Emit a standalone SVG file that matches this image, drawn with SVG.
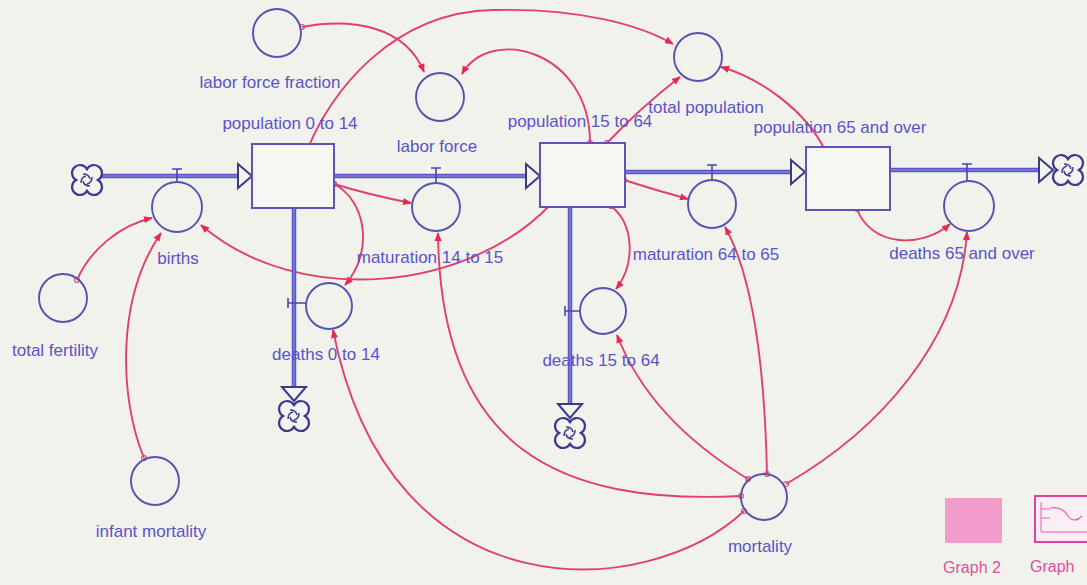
<svg xmlns="http://www.w3.org/2000/svg" width="1087" height="585" viewBox="0 0 1087 585">
<style>
text{font-family:"Liberation Sans",Arial,sans-serif;font-size:17px;fill:#5a52cc;text-anchor:middle}
.aux{fill:none;stroke:#5552b0;stroke-width:1.9}
.stock{fill:#f6f6f3;stroke:#5b55b5;stroke-width:2}
.pipe{fill:none;stroke:#5a55c8;stroke-width:4.5}
.pipein{fill:none;stroke:#9a94e6;stroke-width:1}
.tri{fill:#f4f4ef;stroke:#3c3a86;stroke-width:2}
.valve{fill:none;stroke:#4a44a8;stroke-width:1.6}
.cloud{fill:#f4f4ef;stroke:#3e3a92;stroke-width:2.2}
.link{fill:none;stroke:#e2406c;stroke-width:1.9;marker-end:url(#ah);marker-start:url(#dot)}
.gl{fill:#e0509a;font-size:16px}
</style>
<defs>
<marker id="ah" viewBox="0 0 10 10" refX="9" refY="5" markerWidth="9" markerHeight="9" orient="auto" markerUnits="userSpaceOnUse"><path d="M0,1 L10,5 L0,9 Z" fill="#e8284e"/></marker>
<marker id="dot" viewBox="0 0 10 10" refX="5" refY="5" markerWidth="7" markerHeight="7" markerUnits="userSpaceOnUse"><circle cx="5" cy="5" r="3.5" fill="none" stroke="#e0406e" stroke-width="1.5"/></marker>
<symbol id="cl" viewBox="-16 -16 32 32" overflow="visible">
<path class="cloud" d="M0,-10.9 A8,8 0 1 1 10.9,0 A8,8 0 1 1 0,10.9 A8,8 0 1 1 -10.9,0 A8,8 0 1 1 0,-10.9 Z"/>
<path d="M-4,-6 Q2,-6 3,-1 M5,-3 Q5,3 0,4 M3,6 Q-3,6 -4,1 M-6,3 Q-6,-3 -1,-4" fill="none" stroke="#3e3a92" stroke-width="1.5"/>
</symbol>
</defs>
<rect x="0" y="0" width="1087" height="585" fill="#f2f2ec"/>

<g id="connectors">
<path class="link" d="M302,27 C350,18 405,25 424,72"/>
<path class="link" d="M309,146 C330,95 390,12 493,10 C580,8 640,25 673,44"/>
<path class="link" d="M590,143 C590,50 490,25 462,74"/>
<path class="link" d="M607,143 Q640,108 680,77"/>
<path class="link" d="M825,150 C805,110 760,78 721,67"/>
<path class="link" d="M334,184 Q370,195 411,203"/>
<path class="link" d="M334,184 C365,200 375,250 345,285"/>
<path class="link" d="M551,204 C470,290 300,310 201,225"/>
<path class="link" d="M624,180 Q655,190 688,199"/>
<path class="link" d="M611,206 C635,225 635,265 616,289"/>
<path class="link" d="M857,209 C870,245 920,250 950,224"/>
<path class="link" d="M77,280 C90,250 120,225 152,218"/>
<path class="link" d="M144,458 C120,400 115,300 161,233"/>
<path class="link" d="M744,511 C650,600 390,620 333,330"/>
<path class="link" d="M741,496 C560,505 440,450 438,233"/>
<path class="link" d="M748,479 Q650,420 617,335"/>
<path class="link" d="M767,474 C765,380 755,280 725,227"/>
<path class="link" d="M786,484 C880,430 960,340 967,232"/>
</g>

<g id="flow-births">
<path class="pipe" d="M100,176 H242"/><path class="pipein" d="M100,176 H242"/>
<path class="tri" d="M238,164 L252,176 L238,188 Z"/>
<path class="valve" d="M172,169 H182 M177,169 V182"/>
<use href="#cl" x="71" y="164" width="32" height="32"/>
</g>
<g id="flow-maturation-14-15">
<path class="pipe" d="M334,176 H530"/><path class="pipein" d="M334,176 H530"/>
<path class="tri" d="M526,164 L540,176 L526,188 Z"/>
<path class="valve" d="M431,168 H441 M436,168 V183"/>
</g>
<g id="flow-maturation-64-65">
<path class="pipe" d="M625,172 H795"/><path class="pipein" d="M625,172 H795"/>
<path class="tri" d="M791,160 L805,172 L791,184 Z"/>
<path class="valve" d="M707,165 H717 M712,165 V180"/>
</g>
<g id="flow-deaths-65">
<path class="pipe" d="M890,170 H1044"/><path class="pipein" d="M890,170 H1044"/>
<path class="tri" d="M1039,158 L1053,170 L1039,182 Z"/>
<path class="valve" d="M962,164 H972 M967,164 V181"/>
<use href="#cl" x="1052" y="154" width="32" height="32"/>
</g>
<g id="flow-deaths-0-14">
<path class="pipe" d="M294,208 V392"/><path class="pipein" d="M294,208 V392"/>
<path class="tri" d="M282,387 L294,401 L306,387 Z"/>
<path class="valve" d="M288,298 V308 M288,303 H306"/>
<use href="#cl" x="278" y="400" width="32" height="32"/>
</g>
<g id="flow-deaths-15-64">
<path class="pipe" d="M570,207 V408"/><path class="pipein" d="M570,207 V408"/>
<path class="tri" d="M558,404 L570,418 L582,404 Z"/>
<path class="valve" d="M565,306 V316 M565,311 H580"/>
<use href="#cl" x="554" y="417" width="32" height="32"/>
</g>

<g id="stock-population-0-14">
<rect class="stock" x="252" y="144" width="82" height="64"/>
<text x="290" y="129">population 0 to 14</text>
</g>
<g id="stock-population-15-64">
<rect class="stock" x="540" y="143" width="85" height="64"/>
<text x="580" y="127">population 15 to 64</text>
</g>
<g id="stock-population-65">
<rect class="stock" x="806" y="147" width="84" height="63"/>
<text x="840" y="133">population 65 and over</text>
</g>

<g id="labor-force-fraction"><circle class="aux" cx="277" cy="33" r="24"/><text x="270" y="88">labor force fraction</text></g>
<g id="labor-force"><circle class="aux" cx="440" cy="97" r="24"/><text x="437" y="152">labor force</text></g>
<g id="total-population"><circle class="aux" cx="698" cy="57" r="24"/><text x="706" y="113">total population</text></g>
<g id="births"><circle class="aux" cx="177" cy="207" r="25"/><text x="178" y="264">births</text></g>
<g id="total-fertility"><circle class="aux" cx="63" cy="298" r="24"/><text x="55" y="356">total fertility</text></g>
<g id="infant-mortality"><circle class="aux" cx="155" cy="481" r="24"/><text x="151" y="537">infant mortality</text></g>
<g id="maturation-14-15"><circle class="aux" cx="436" cy="207" r="24"/><text x="430" y="263">maturation 14 to 15</text></g>
<g id="deaths-0-14"><circle class="aux" cx="329" cy="306" r="23"/><text x="326" y="360">deaths 0 to 14</text></g>
<g id="maturation-64-65"><circle class="aux" cx="712" cy="204" r="24"/><text x="706" y="260">maturation 64 to 65</text></g>
<g id="deaths-15-64"><circle class="aux" cx="603" cy="311" r="23"/><text x="601" y="366">deaths 15 to 64</text></g>
<g id="deaths-65"><circle class="aux" cx="969" cy="206" r="25"/><text x="962" y="259">deaths 65 and over</text></g>
<g id="mortality"><circle class="aux" cx="764" cy="497" r="23"/><text x="760" y="552">mortality</text></g>

<g id="graph-2">
<rect x="945" y="498" width="57" height="45" fill="#f49ccb"/>
<text class="gl" x="972" y="573">Graph 2</text>
</g>
<g id="graph">
<rect x="1035" y="496" width="56" height="46" fill="#fbeef5" stroke="#e040a0" stroke-width="2"/>
<path d="M1041,502 V532 H1087 M1041,509 H1050 M1041,518 H1050" fill="none" stroke="#e060a8" stroke-width="1"/>
<path d="M1050,508 Q1062,506 1068,516 Q1074,524 1082,516" fill="none" stroke="#e060a8" stroke-width="1.2"/>
<text class="gl" x="1030" y="572" style="text-anchor:start">Graph</text>
</g>
</svg>
